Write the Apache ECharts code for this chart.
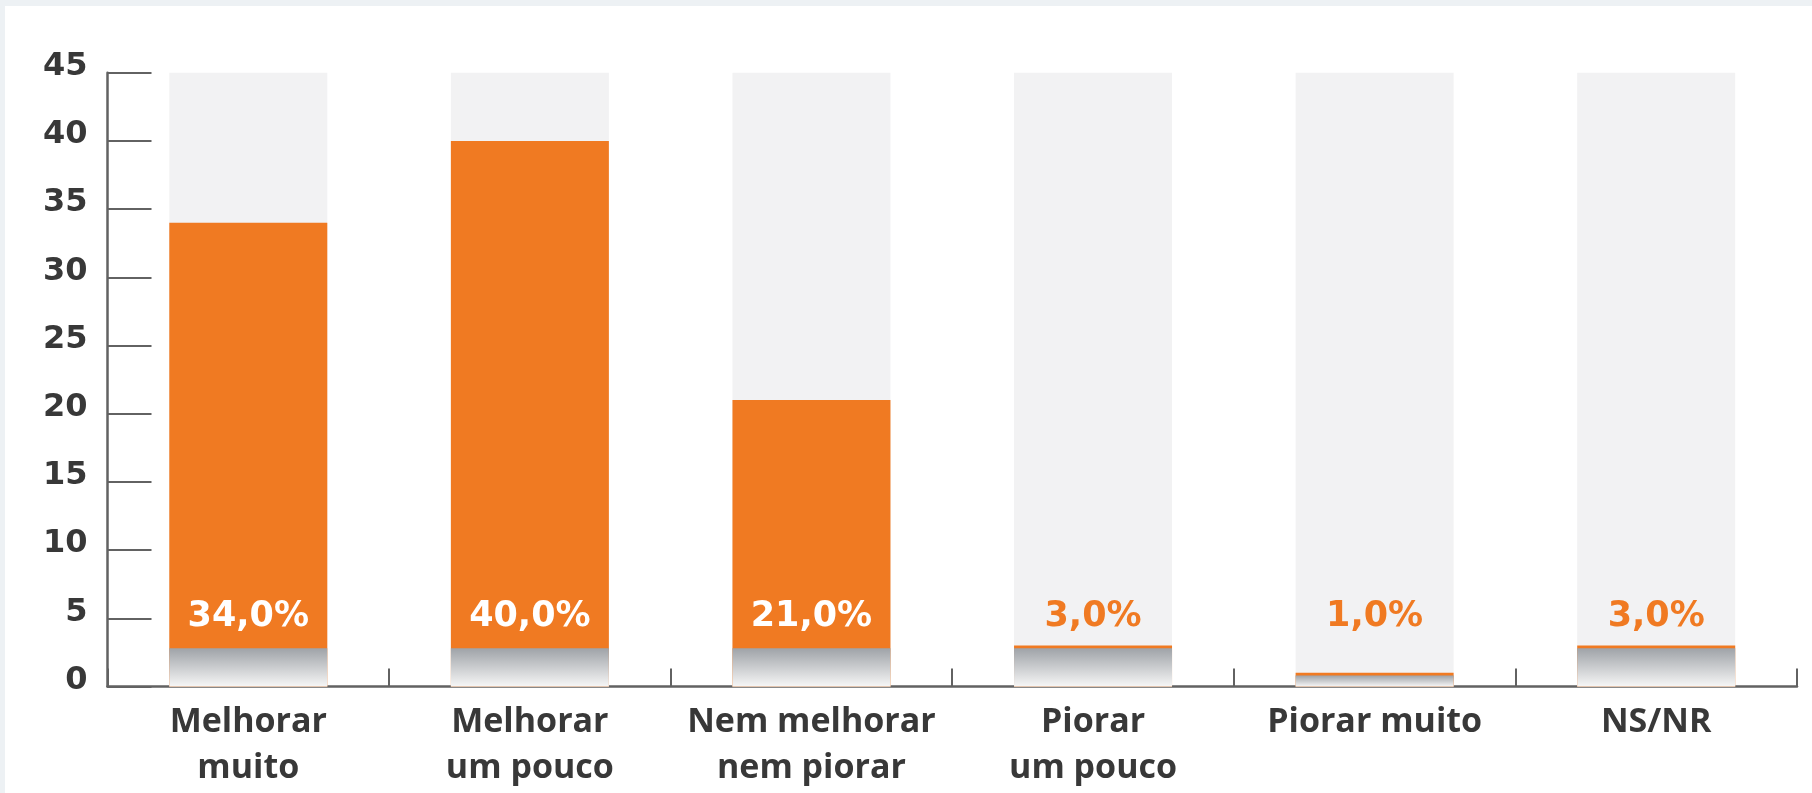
<!DOCTYPE html>
<html>
<head>
<meta charset="utf-8">
<title>Expectativa</title>
<script src="https://cdn.jsdelivr.net/npm/echarts@6/dist/echarts.min.js"></script>
<style>
  html, body { margin: 0; padding: 0; width: 1812px; height: 793px; overflow: hidden; background: #edf1f4; }
  #chart { position: absolute; left: 5px; top: 6px; width: 1807px; height: 787px; background: #ffffff; }
</style>
</head>
<body>
<div id="chart"></div>
<script>
// Answer categories (x axis)
const categories = [
  'Melhorar\nmuito',
  'Melhorar\num pouco',
  'Nem melhorar\nnem piorar',
  'Piorar\num pouco',
  'Piorar muito',
  'NS/NR'
];
// Share of answers, in percent
const values = [34, 40, 21, 3, 1, 3];
// Value axis range and step
const yMin = 0;
const yMax = 45;
const yStep = 5;

const ORANGE = '#f07a22';
const TRACK = '#f2f2f3';
const AXIS = '#626262';
const TEXT = '#383838';
// Height of the grey shade at the foot of each bar, in axis units
const SHADE = 2.8;

const fmt = v => v.toFixed(1).replace('.', ',') + '%';

const chart = echarts.init(document.getElementById('chart'), null, { renderer: 'canvas' });

chart.setOption({
  animation: false,
  grid: { left: 102.5, right: 15, top: 66.8, bottom: 106.5, containLabel: false },
  xAxis: {
    type: 'category',
    data: categories,
    axisLine: { show: true, lineStyle: { color: AXIS, width: 2.5 } },
    axisTick: { show: true, inside: true, length: 18, lineStyle: { color: AXIS, width: 2 } },
    axisLabel: {
      interval: 0,
      margin: 12.5,
      color: TEXT,
      fontFamily: 'Open Sans',
      fontWeight: 'bold',
      fontSize: 34,
      lineHeight: 46
    },
    splitLine: { show: false }
  },
  yAxis: {
    type: 'value',
    min: yMin,
    max: yMax,
    interval: yStep,
    axisLine: { show: true, lineStyle: { color: AXIS, width: 2.5 } },
    axisTick: { show: true, inside: true, length: 44, lineStyle: { color: AXIS, width: 2 } },
    splitLine: { show: false },
    axisLabel: {
      margin: 20,
      formatter: v => '{a|' + v + '}',
      rich: {
        a: {
          color: TEXT,
          fontFamily: 'DejaVu Sans',
          fontWeight: 'bold',
          fontSize: 32,
          padding: [0, 0, 12, 0]
        }
      }
    }
  },
  series: [
    {
      name: 'Respostas',
      type: 'bar',
      barWidth: 158,
      barGap: '-100%',
      z: 2,
      showBackground: true,
      backgroundStyle: { color: TRACK },
      itemStyle: { color: ORANGE },
      data: values.map(v => ({
        value: v,
        label: { color: v >= 10 ? '#ffffff' : ORANGE }
      })),
      label: {
        show: true,
        position: 'insideBottom',
        distance: 52,
        formatter: p => fmt(p.value),
        fontFamily: 'DejaVu Sans',
        fontWeight: 'bold',
        fontSize: 35,
        lineHeight: 35
      }
    },
    {
      // grey fade at the foot of every bar, kept just under each bar's top edge
      name: 'base',
      type: 'bar',
      barWidth: 158,
      barGap: '-100%',
      z: 3,
      silent: true,
      itemStyle: {
        color: new echarts.graphic.LinearGradient(0, 0, 0, 1, [
          { offset: 0, color: '#9fa3a8' },
          { offset: 1, color: '#f6f6f6' }
        ])
      },
      label: { show: false },
      data: values.map(v => Math.min(SHADE, v - 0.2))
    }
  ]
});
</script>
</body>
</html>
